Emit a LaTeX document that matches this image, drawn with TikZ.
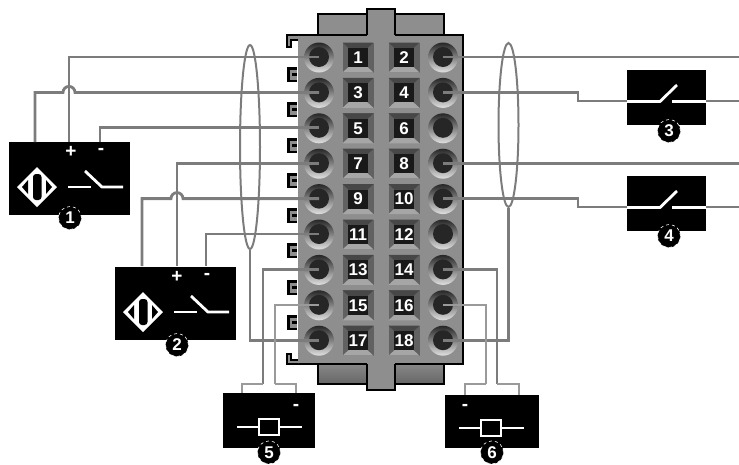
\documentclass[tikz,border=0pt]{standalone}
\usepackage{fontspec}
\setsansfont{Liberation Sans}
\usepackage{tikz}
\usetikzlibrary{shapes.geometric}
\definecolor{bodygray}{HTML}{8E8E8E}
\definecolor{wiregray}{HTML}{7C7C7C}
\definecolor{legray}{HTML}{9A9A9A}

\begin{document}
\begin{tikzpicture}[x=1pt,y=-1pt]
	\tikzstyle{tab}=[draw=black, line width=1.2pt, fill=bodygray]
	\tikzstyle{lowtab}=[draw=black, line width=1.2pt, top color=bodygray, bottom color=black!60]
	\tikzstyle{body}=[rectangle, fill=bodygray, minimum width=165pt, minimum height=329pt, inner sep=0pt]
	\tikzstyle{hole}=[circle, minimum size=30pt, inner sep=0pt, top color=black!85, bottom color=black!12]
	\tikzstyle{core}=[circle, fill=black!85, minimum size=20pt, inner sep=0pt]
	\tikzstyle{num}=[rectangle, fill=black!90, text=white, minimum width=20pt, minimum height=19pt, inner sep=0pt, font=\sffamily\bfseries\fontsize{17}{17}\selectfont]
	\tikzstyle{wire}=[draw=wiregray, line width=2.8pt]
	\tikzstyle{leg}=[draw=legray, line width=2.2pt]
	\tikzstyle{bundle}=[ellipse, draw=wiregray, line width=2pt, inner sep=0pt]
	\tikzstyle{box}=[rectangle, fill=black, inner sep=0pt]
	\tikzstyle{sym}=[draw=white, line width=2.8pt]
	\tikzstyle{badge}=[circle, fill=black, draw=white, dashed, line width=0.6pt, text=white, minimum size=23pt, inner sep=0pt, font=\sffamily\bfseries\fontsize{17}{17}\selectfont]
	\tikzstyle{sign}=[text=white, inner sep=0pt, font=\sffamily\bfseries\fontsize{19}{19}\selectfont]

	\useasboundingbox (0,0) rectangle (739,464);

	% housing
	\draw[tab] (318,14) rectangle (444,36);
	\draw[lowtab] (318,360) rectangle (444,384);
	\draw[tab] (367,380) -- (367,390) -- (395,390) -- (395,380);
	\fill[bodygray] (367.6,360) rectangle (394.4,389.4);
	\node[body] (housing) at (380.5,199.5) {};
	\draw[tab] (367,35) -- (367,9) -- (395,9) -- (395,35);
	\fill[bodygray] (367.6,30) rectangle (394.4,36.5);
	\draw[line width=1.2pt] (287,35) -- (367,35) (395,35) -- (463,35) -- (463,364) -- (395,364) (367,364) -- (287,364);
	\draw[line width=1.2pt] (367,364) -- (367,384) (395,364) -- (395,384);
	\draw[tab] (298,35) -- (287,35) -- (287,47) -- (291,47) -- (291,40) -- (298,40);
	\draw[tab] (298,364) -- (287,364) -- (287,354) -- (291,354) -- (291,360) -- (298,360);
	\foreach \hy in {67,102,138,173,208,243,280,315} {
		\fill[black] (287,\hy) rectangle (297,\hy+15);
		\fill[bodygray] (289.5,\hy+2.5) rectangle (297,\hy+12.5);
		\fill[black] (292,\hy+6) rectangle (297,\hy+9);
	}

	% terminals
	\foreach \r in {1,...,9} {
		\pgfmathsetmacro{\rowy}{57.5+35.4*(\r-1)}
		\pgfmathtruncatemacro{\odd}{2*\r-1}
		\pgfmathtruncatemacro{\even}{2*\r}
		\foreach \n/\hx/\lx in {\odd/319/358,\even/443/404} {
			\begin{scope}[shift={(\lx,\rowy)}]
				\fill[black!62] (-15.5,-15) rectangle (15.5,15);
				\fill[black!72] (-15.5,-15) -- (15.5,-15) -- (9,-9) -- (-9,-9) -- cycle;
				\fill[black!35] (-15.5,15) -- (15.5,15) -- (9,9) -- (-9,9) -- cycle;
			\end{scope}
			\node[hole] (h\n) at (\hx,\rowy) {};
			\node[core] (p\n) at (\hx,\rowy-0.5) {};
			\node[num] (l\n) at (\lx,\rowy) {\n};
		}
	}

	% sensors
	\foreach \s/\dx/\dy in {1/0/0,2/106/125} {
		\begin{scope}[shift={(\dx,\dy)}]
			\node[box, minimum width=121pt, minimum height=73pt] (s\s) at (69.5,178.5) {};
			\node[sign] (plus\s) at (71,152) {+};
			\node[sign] (minus\s) at (101,151) {-};
			\fill[white] (17,187) -- (37,167) -- (57,187) -- (37,207) -- cycle;
			\fill[black] (22,187) -- (28,180) -- (28,194) -- cycle;
			\fill[black] (52,187) -- (46,180) -- (46,194) -- cycle;
			\fill[black, rounded corners=3pt] (33,174) rectangle (41.5,200);
			\draw[sym] (68,187) -- (91,187);
			\draw[sym] (85,171) -- (102,187) -- (123,187);
		\end{scope}
	}
	\node[badge] (b1) at (70,218) {1};
	\node[badge] (b2) at (177,345) {2};

	% switches
	\foreach \s/\sy in {3/97,4/203} {
		\node[box, minimum width=79pt, minimum height=55pt] (s\s) at (666.5,\sy) {};
		\draw[sym] (627,\sy+4.5) -- (660,\sy+4.5) -- (677,\sy-12);
		\draw[sym] (672,\sy+4.5) -- (706,\sy+4.5);
	}
	\node[badge] (b3) at (669,131) {3};
	\node[badge] (b4) at (669,236) {4};

	% relays
	\foreach \s/\sx/\bw/\sy/\bh/\rx/\ry in {5/269/92/420.5/55/269/427,6/492/94/421.5/53/491/428} {
		\node[box, minimum width=\bw pt, minimum height=\bh pt] (s\s) at (\sx,\sy) {};
		\draw[sym] (\rx-32,\ry) -- (\rx-11,\ry) (\rx+11,\ry) -- (\rx+33,\ry);
		\draw[sym] (\rx-10,\ry-8) rectangle (\rx+10,\ry+8);
	}
	\node[sign] (minus5) at (296,407) {-};
	\node[sign] (minus6) at (465,407) {-};
	\node[badge] (b5) at (269,452.4) {5};
	\node[badge] (b6) at (492,452.4) {6};

	% bundles
	\node[bundle, minimum width=20pt, minimum height=204pt] (loopl) at (250,147) {};
	\node[bundle, minimum width=20pt, minimum height=164pt] (loopr) at (508.5,125) {};

	\coordinate (s1a) at (35,142);
	\coordinate (s1b) at (69,142);
	\coordinate (s1c) at (100,142);
	\coordinate (s2a) at (142,266);
	\coordinate (s2b) at (177,266);
	\coordinate (s2c) at (206,266);
	\coordinate (j3) at (578,101);
	\coordinate (j4) at (578,207);
	\coordinate (s3l) at (627,101);
	\coordinate (s3r) at (706,101);
	\coordinate (s4l) at (627,207);
	\coordinate (s4r) at (706,207);
	\coordinate (o2) at (739,57);
	\coordinate (o3) at (739,101);
	\coordinate (o8) at (739,163);
	\coordinate (o4) at (739,207);
	\coordinate (j13) at (263,384);
	\coordinate (j15) at (275,384);
	\coordinate (j14) at (497,384);
	\coordinate (j16) at (486,384);
	\coordinate (s5a) at (242,393);
	\coordinate (s5b) at (296,393);
	\coordinate (s6a) at (465,395);
	\coordinate (s6b) at (519,395);

	% wires
	\foreach \from/\to in {p1/s1b,p5/s1c,p7/s2b,p11/s2c}
	\draw[wire] (\from.center) -| (\to);
	\draw[wire] (p3.center) -- (75,92.4) arc (0:-180:6) -| (s1a);
	\draw[wire] (p9.center) -- (183,198.6) arc (0:-180:6) -| (s2a);
	\draw[wire] (p17.center) -| (loopl.south);
	\draw[wire] (p18.center) -| (loopr.south);
	\draw[wire] (p2.center) -- (o2 |- p2);
	\draw[wire] (p8.center) -- (o8 |- p8);
	\draw[wire] (p4.center) -| (j3) -- (s3l);
	\draw[wire] (p10.center) -| (j4) -- (s4l);
	\draw[wire] (s3r) -- (o3);
	\draw[wire] (s4r) -- (o4);
	\draw[wire] (p13.center) -| (j13);
	\draw[wire] (p14.center) -| (j14);
	\draw[leg] (p15.center) -| (j15);
	\draw[leg] (p16.center) -| (j16);
	\draw[leg] (j13) -| (s5a);
	\draw[leg] (j15) -| (s5b);
	\draw[leg] (j14) -| (s6b);
	\draw[leg] (j16) -| (s6a);
\end{tikzpicture}
\end{document}
